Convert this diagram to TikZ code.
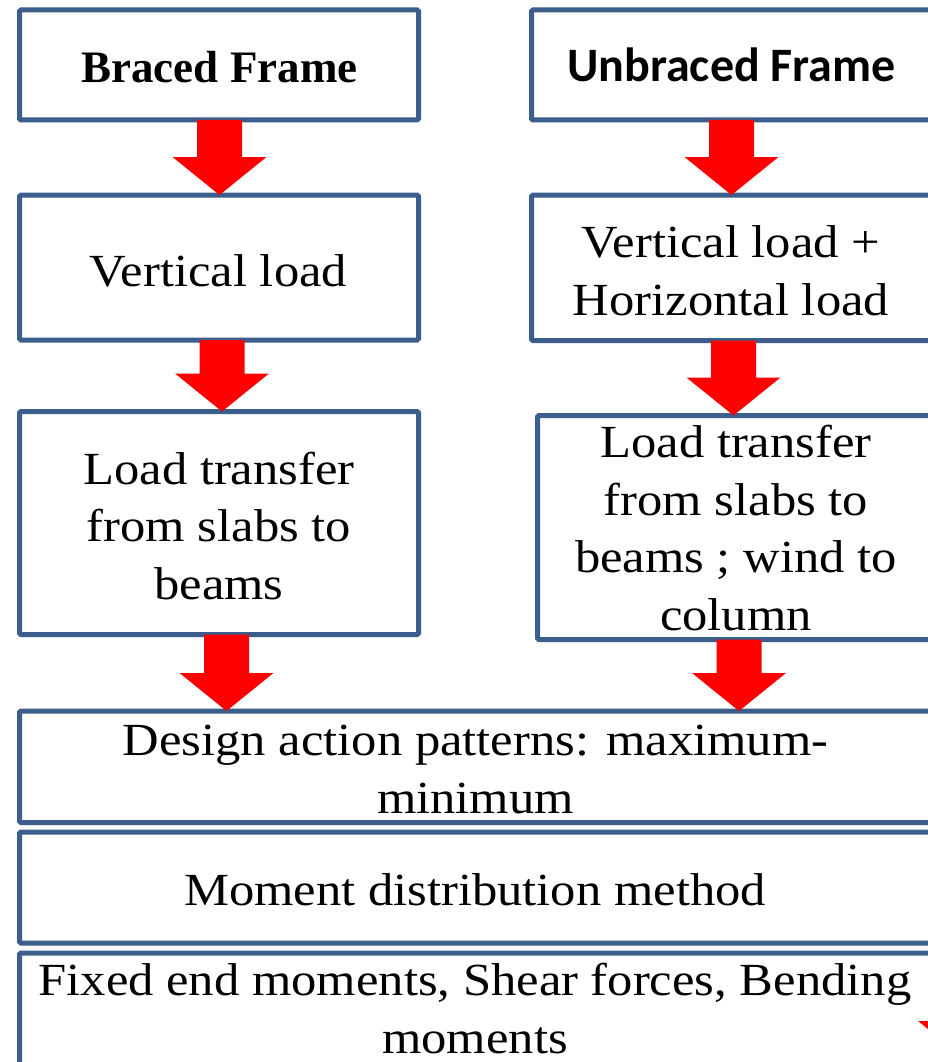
\documentclass[tikz,border=0pt]{standalone}
\usepackage{fontspec}
\setmainfont{Liberation Serif}[FakeStretch=1.1]
\newfontfamily\bracedfont{Liberation Serif}
\newfontfamily\unbracedfont{Carlito}
\usetikzlibrary{calc}
\definecolor{boxline}{HTML}{3B5E8C}
\definecolor{arrowred}{HTML}{FF0000}
\newcommand\arrowshape[2]{%
  \fill[arrowred] ($(#1)+(-22.5,0)$) -- ($(#1)+(22.5,0)$) -- ($(#2)+(22.5,-38)$) --
    ($(#2)+(47,-38)$) -- (#2) -- ($(#2)+(-47,-38)$) -- ($(#2)+(-22.5,-38)$) -- cycle;}
\newcommand\flowarrow[3]{%
  \coordinate (fas) at ({#1},0 |- #2.south);
  \coordinate (fat) at ({#1},0 |- #3.north);
  \arrowshape{fas}{fat}}
\begin{document}
\begin{tikzpicture}[x=1pt,y=-1pt,
  box/.style={draw=boxline, line width=5pt, rounded corners=1.5pt, inner sep=0pt, outer sep=0pt, fill=white},
  txt/.style={anchor=base, align=center, inner sep=0pt, font=\fontsize{46}{57.5}\selectfont}]
\useasboundingbox (0,0) rectangle (928,1062);
\clip (0,0) rectangle (928,1062);
\fill[white] (0,0) rectangle (928,1062);
% boxes
\node[box, minimum width=399.2pt, minimum height=110pt] (b1) at (219.1,65) {};
\node[box, minimum width=400.5pt, minimum height=110pt] (b2) at (731.75,65) {};
\node[box, minimum width=399.2pt, minimum height=145pt] (b3) at (219.1,267.5) {};
\node[box, minimum width=400.5pt, minimum height=145.5pt] (b4) at (731.75,267.75) {};
\node[box, minimum width=399.2pt, minimum height=223pt] (b5) at (219.1,523) {};
\node[box, minimum width=398.5pt, minimum height=224pt] (b6) at (736.75,527.5) {};
\node[box, minimum width=912.5pt, minimum height=111.5pt] (b7) at (475.75,766.75) {};
\node[box, minimum width=912.5pt, minimum height=111pt] (b8) at (475.75,887.5) {};
\node[box, minimum width=912.5pt, minimum height=127pt] (b9) at (475.75,1016.5) {};
% texts (base anchor = baseline of the last line)
\node[txt, font=\bracedfont\bfseries\fontsize{45}{54}\selectfont] (t1) at (219.5,83) {Braced Frame};
\node[txt, font=\unbracedfont\bfseries\fontsize{48}{58}\selectfont] (t2) at (731.5,82) {Unbraced Frame};
\node[txt] (t3) at (218.5,286) {Vertical load};
\node[txt] (t4) at (731,315) {Vertical load +\\Horizontal load};
\node[txt] (t5) at (219,599) {Load transfer\\from slabs to\\beams};
\node[txt] (t6) at (736,630) {Load transfer\\from slabs to\\beams ; wind to\\column};
\node[txt] (t7) at (475.5,813) {Design action patterns: maximum-\\minimum};
\node[txt] (t8) at (475,905) {Moment distribution method};
\node[txt] (t9) at (475,1053) {Fixed end moments, Shear forces, Bending\\moments};
% arrows
\flowarrow{219.5}{b1}{b3}
\flowarrow{222}{b3}{b5}
\flowarrow{226.5}{b5}{b7}
\flowarrow{731.5}{b2}{b4}
\flowarrow{733.5}{b4}{b6}
\flowarrow{739}{b6}{b7}
\coordinate (ps) at (965,985);
\coordinate (pt) at (965,1059);
\arrowshape{ps}{pt}
\end{tikzpicture}
\end{document}
